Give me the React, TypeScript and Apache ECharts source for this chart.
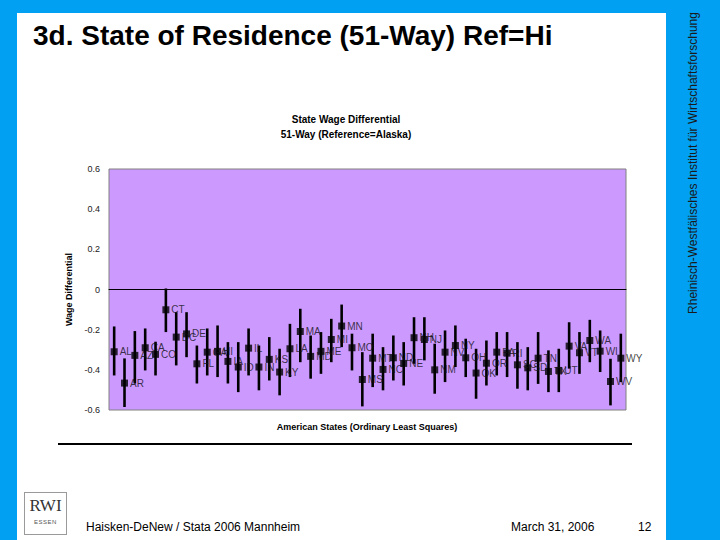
import { useEffect, useRef } from 'react'
import * as echarts from 'echarts'

// 50 states + DC, Alaska is the reference category
const states = [
  'AL', 'AR', 'AZ', 'CA', 'CO', 'CT', 'DC', 'DE', 'FL', 'GA',
  'HI', 'IA', 'ID', 'IL', 'IN', 'KS', 'KY', 'LA', 'MA', 'MD',
  'ME', 'MI', 'MN', 'MO', 'MS', 'MT', 'NC', 'ND', 'NE', 'NH',
  'NJ', 'NM', 'NV', 'NY', 'OH', 'OK', 'OR', 'PA', 'RI', 'SC',
  'SD', 'TN', 'TX', 'UT', 'VA', 'VT', 'WA', 'WI', 'WV', 'WY',
]

const estimate = [
  -0.31, -0.466, -0.328, -0.29, -0.323, -0.101, -0.237, -0.221, -0.37, -0.312,
  -0.308, -0.358, -0.386, -0.292, -0.386, -0.348, -0.411, -0.295, -0.209, -0.333,
  -0.308, -0.249, -0.182, -0.29, -0.448, -0.342, -0.398, -0.34, -0.368, -0.24,
  -0.249, -0.4, -0.312, -0.279, -0.34, -0.416, -0.367, -0.312, -0.317, -0.375,
  -0.39, -0.342, -0.408, -0.403, -0.282, -0.315, -0.254, -0.307, -0.458, -0.342,
]

const lower = [
  -0.428, -0.585, -0.468, -0.403, -0.428, -0.212, -0.378, -0.337, -0.468, -0.428,
  -0.436, -0.468, -0.511, -0.428, -0.502, -0.453, -0.527, -0.436, -0.362, -0.444,
  -0.42, -0.362, -0.287, -0.403, -0.582, -0.486, -0.502, -0.453, -0.478, -0.37,
  -0.353, -0.519, -0.461, -0.386, -0.436, -0.544, -0.478, -0.428, -0.436, -0.494,
  -0.502, -0.47, -0.511, -0.511, -0.394, -0.42, -0.362, -0.411, -0.577, -0.461,
]

const upper = [
  -0.184, -0.343, -0.207, -0.194, -0.26, 0.005, -0.113, -0.113, -0.279, -0.194,
  -0.179, -0.262, -0.262, -0.194, -0.279, -0.237, -0.295, -0.171, -0.096, -0.229,
  -0.212, -0.146, -0.075, -0.22, -0.312, -0.22, -0.287, -0.229, -0.262, -0.138,
  -0.138, -0.27, -0.204, -0.179, -0.245, -0.295, -0.254, -0.212, -0.212, -0.262,
  -0.287, -0.212, -0.303, -0.295, -0.163, -0.212, -0.151, -0.204, -0.345, -0.22,
]

const font = '"Liberation Sans", Arial, Helvetica, sans-serif'
const blue = '#02A0F2'

export default function App() {
  const ref = useRef<HTMLDivElement>(null)

  useEffect(() => {
    if (!ref.current) return
    const chart = echarts.init(ref.current, undefined, { renderer: 'svg' })

    chart.setOption({
      animation: false,
      textStyle: { fontFamily: font },
      grid: {
        left: 109,
        top: 169,
        width: 517,
        height: 241,
        show: true,
        backgroundColor: '#CC99FF',
        borderColor: '#808080',
        borderWidth: 1,
      },
      xAxis: {
        type: 'category',
        data: states,
        boundaryGap: true,
        axisLine: { onZero: true, lineStyle: { color: '#000', width: 1 } },
        axisTick: { show: false },
        axisLabel: { show: false },
        splitLine: { show: false },
      },
      yAxis: {
        type: 'value',
        min: -0.6,
        max: 0.6,
        interval: 0.2,
        name: 'Wage Differential',
        nameLocation: 'middle',
        nameRotate: 90,
        nameGap: 30,
        nameTextStyle: { fontSize: 9, fontWeight: 'bold', color: '#000', fontFamily: font },
        axisLine: { show: false },
        axisTick: { show: false },
        splitLine: { show: false },
        axisLabel: {
          fontSize: 9,
          color: '#222',
          margin: 9,
          formatter: (v: number) => String(Number(v.toFixed(1))),
        },
      },
      graphic: [
        {
          type: 'text',
          style: {
            x: 346,
            y: 127,
            text: 'State Wage Differential\n51-Way (Reference=Alaska)',
            align: 'center',
            verticalAlign: 'middle',
            lineHeight: 15,
            fontSize: 10,
            fontWeight: 'bold',
            fill: '#000',
            fontFamily: font,
          },
        },
        {
          type: 'text',
          style: {
            x: 367,
            y: 427,
            text: 'American States (Ordinary Least Squares)',
            align: 'center',
            verticalAlign: 'middle',
            fontSize: 9,
            fontWeight: 'bold',
            fill: '#000',
            fontFamily: font,
          },
        },
      ],
      series: [
        {
          type: 'custom',
          name: 'ci',
          data: states.map((_, i) => [i, lower[i], upper[i]]),
          renderItem: (_params: any, api: any) => {
            const lo = api.coord([api.value(0), api.value(1)])
            const hi = api.coord([api.value(0), api.value(2)])
            return {
              type: 'line',
              shape: { x1: lo[0], y1: lo[1], x2: hi[0], y2: hi[1] },
              style: { stroke: '#000', lineWidth: 2.6 },
            }
          },
          z: 2,
        },
        {
          type: 'scatter',
          data: estimate,
          symbol: 'rect',
          symbolSize: 7,
          itemStyle: { color: '#000' },
          label: {
            show: true,
            position: 'right',
            distance: 2,
            fontSize: 10,
            color: '#111',
            fontFamily: font,
            formatter: (p: any) => states[p.dataIndex],
          },
          z: 3,
        },
      ],
    })

    return () => {
      chart.dispose()
    }
  }, [])

  return (
    <div
      style={{
        position: 'fixed',
        left: 0,
        top: 0,
        width: 720,
        height: 540,
        background: '#fff',
        overflow: 'hidden',
        fontFamily: font,
        color: '#000',
      }}
    >
      {/* blue frame */}
      <div style={{ position: 'absolute', left: 0, top: 0, width: 720, height: 13, background: blue }} />
      <div style={{ position: 'absolute', left: 0, top: 0, width: 17, height: 540, background: blue }} />
      <div style={{ position: 'absolute', left: 666, top: 0, width: 54, height: 540, background: blue }} />
      <div
        style={{
          position: 'absolute',
          left: 693,
          top: 163,
          transform: 'translate(-50%, -50%) rotate(-90deg)',
          whiteSpace: 'nowrap',
          fontSize: 12,
          color: '#1a1a1a',
        }}
      >
        Rheinisch-Westfälisches Institut für Wirtschaftsforschung
      </div>

      <div
        style={{
          position: 'absolute',
          left: 33,
          top: 19,
          fontSize: 28,
          lineHeight: '34px',
          fontWeight: 'bold',
          whiteSpace: 'nowrap',
        }}
      >
        3d. State of Residence (51-Way) Ref=Hi
      </div>

      <div style={{ position: 'absolute', left: 58, top: 443, width: 574, height: 1.5, background: '#000' }} />

      {/* logo */}
      <div
        style={{
          position: 'absolute',
          left: 24,
          top: 492,
          width: 41,
          height: 41,
          border: '1px solid #9a9a9a',
          textAlign: 'center',
          color: '#333',
        }}
      >
        <div style={{ fontFamily: '"Liberation Serif", "DejaVu Serif", serif', fontSize: 17, lineHeight: '20px', marginTop: 3 }}>
          RWI
        </div>
        <div style={{ fontSize: 6, letterSpacing: 0.5, marginTop: 3, color: '#555' }}>ESSEN</div>
      </div>

      <div style={{ position: 'absolute', left: 86, top: 519, fontSize: 12, lineHeight: '16px', whiteSpace: 'nowrap' }}>
        Haisken-DeNew / Stata 2006 Mannheim
      </div>
      <div style={{ position: 'absolute', left: 511, top: 519, fontSize: 12, lineHeight: '16px', whiteSpace: 'nowrap' }}>
        March 31, 2006
      </div>
      <div style={{ position: 'absolute', left: 638, top: 519, fontSize: 12, lineHeight: '16px' }}>12</div>

      <div ref={ref} style={{ position: 'absolute', left: 0, top: 0, width: 720, height: 540 }} />
    </div>
  )
}
